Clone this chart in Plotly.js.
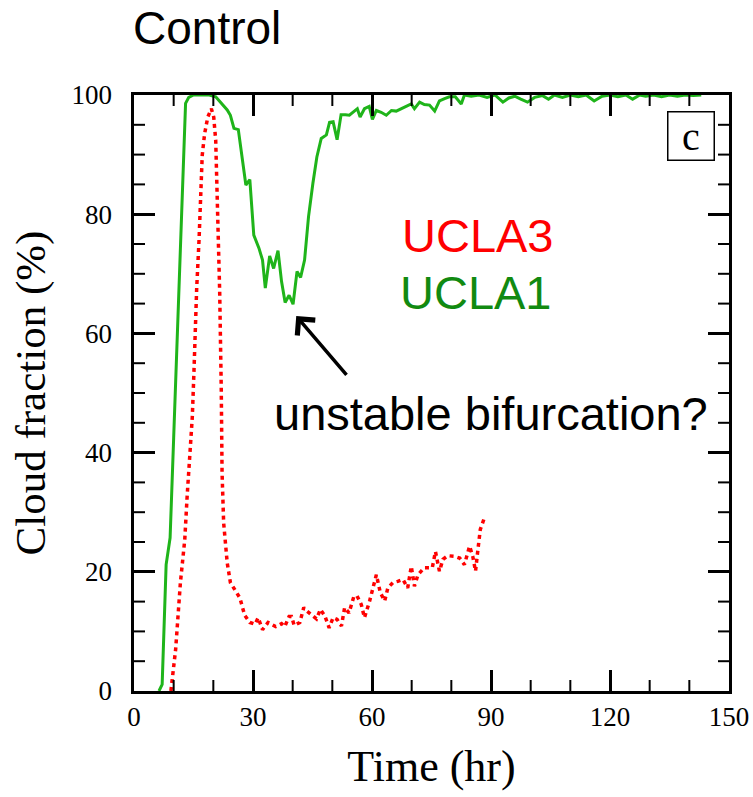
<!DOCTYPE html>
<html>
<head>
<meta charset="utf-8">
<script src="https://cdn.plot.ly/plotly-3.0.1.min.js"></script>
<style>html,body{margin:0;padding:0;background:#fff;}#chart{width:753px;height:797px;}</style>
</head>
<body>
<div id="chart"></div>
<script>
// UCLA1 (green, solid)
const ucla1Time = [6.3, 7.1, 8.1, 9.1, 10, 11, 12, 13, 13.8, 15, 17, 19, 20.6, 21.6, 22.6, 23.5, 24.3, 25.2, 26.3, 27.2, 28.2, 29.2, 30.2, 31.5, 32.4, 33.1, 34.2, 35.2, 36.3, 37.2, 38.1, 39.1, 40.1, 41.1, 42, 43, 44, 45.1, 46.1, 47.2, 48.5, 49.3, 50.2, 51.2, 52.2, 53.3, 54.3, 55.4, 56.3, 57, 58.1, 59.3, 60.1, 61.1, 62.3, 63.6, 64.9, 66.1, 67.4, 68.6, 69.9, 70.7, 72, 73.2, 74.5, 75.8, 77, 78.3, 79.5, 81, 82.5, 83.3, 85, 87, 89, 91, 93, 94.5, 96, 97.5, 99.2, 101, 103, 104.5, 106, 108, 110, 112, 114, 116, 118, 120, 122, 124, 125.7, 127.5, 129, 131, 133, 135, 137, 139, 141, 143];
const ucla1Cloud = [0, 1.1, 21.2, 25.7, 42.5, 61, 80, 98.6, 99.6, 100, 100, 100, 99.7, 99, 98.3, 97.5, 96.6, 94.4, 94.2, 89.5, 84.9, 85.8, 76.5, 74.3, 72.3, 67.6, 73, 70.9, 73.9, 68.7, 65.2, 66.4, 64.9, 70.4, 69.4, 72.3, 79.6, 85.2, 89.6, 92.7, 93.3, 95.4, 95.5, 92.5, 96.7, 96.7, 96.6, 97.2, 97.7, 96.3, 97.7, 98.1, 95.9, 97.4, 97.1, 96.6, 97.4, 97.3, 97.7, 98, 98.5, 97.7, 98.8, 98.4, 98.3, 97.3, 99, 99.4, 99.7, 99.7, 98.5, 100, 99.8, 100, 99.6, 100, 98.8, 99.5, 99.8, 99.3, 98.8, 99.6, 99.9, 99.3, 100, 99.6, 100, 99.7, 100, 99, 99.8, 100, 99.7, 100, 99.3, 100, 99.8, 100, 99.7, 100, 99.8, 100, 99.9, 100];

// UCLA3 (red, dotted)
const ucla3Time = [9.3, 10.5, 11.7, 12.8, 13.4, 14.1, 14.7, 15.1, 15.4, 15.8, 16.4, 16.8, 17.2, 17.8, 18.6, 19.5, 20.1, 20.6, 21, 21.4, 21.6, 22, 22.2, 22.6, 23.5, 24.3, 25.4, 26.7, 27.9, 29.2, 30.5, 31.3, 32.4, 33.8, 35.7, 37.2, 38, 39.1, 39.7, 40.4, 41.8, 42.8, 43.6, 44.7, 46, 47, 48.1, 49.2, 50.2, 51.2, 52.3, 53.1, 54.2, 55.4, 56.2, 57.3, 58.1, 59.4, 60.5, 61.1, 62.1, 63.2, 64, 65.3, 66.5, 67.8, 69, 69.9, 70.7, 71.6, 73.2, 75.2, 76, 77, 77.9, 79.1, 80.8, 82.1, 83.3, 84.6, 85.4, 86.1, 86.7, 87.3, 88.3];
const ucla3Cloud = [0, 7, 18.2, 25.4, 32.7, 39.4, 46, 53.3, 61.7, 67.5, 75.7, 82.9, 89.9, 93.5, 96.3, 97.7, 96.3, 92.4, 84, 75.7, 67, 50.5, 36.6, 28.2, 21.5, 18.2, 17, 15.6, 12.7, 11.5, 11.2, 12.3, 10.3, 11.5, 10.8, 11.3, 10.8, 12.5, 12.5, 11, 11.5, 14, 13.4, 12.8, 12.1, 13.7, 12.6, 10.6, 12.3, 12, 10.9, 14, 13.1, 15.8, 16, 14.5, 12.3, 15.1, 17.9, 19.5, 16.5, 15.1, 17.3, 18.2, 18.4, 18.7, 17.3, 20.9, 17.6, 19.5, 20.7, 20.7, 23.4, 20.1, 22.1, 22.7, 22.6, 22.3, 21.2, 24.3, 22.6, 20.1, 23.7, 27.1, 29];

const xTickVals = [0, 30, 60, 90, 120, 150];
const yTickVals = [0, 20, 40, 60, 80, 100];
const xMinorTicks = [10, 20, 40, 50, 70, 80, 100, 110, 130, 140];
const yMinorTicks = [5, 10, 15, 25, 30, 35, 45, 50, 55, 65, 70, 75, 85, 90, 95];

const serif = "'Liberation Serif', 'Times New Roman', Times, serif";
const sans = "'Liberation Sans', Arial, Helvetica, sans-serif";

const traces = [
  {x: ucla1Time, y: ucla1Cloud, type: 'scatter', mode: 'lines', name: 'UCLA1',
   line: {color: '#1fb41a', width: 3}},
  {x: ucla3Time, y: ucla3Cloud, type: 'scatter', mode: 'lines', name: 'UCLA3',
   line: {color: '#ff0000', width: 3.5, dash: '4px,4px'}}
];

// inward minor tick marks on all four sides, placed on the axis scale
const MAJOR_LEN = 21, MINOR_LEN = 11;
function xTicks(vals, len, w) {
  const out = [];
  vals.forEach(v => {
    out.push({type: 'line', xref: 'x', yref: 'paper', ysizemode: 'pixel', yanchor: 0,
              x0: v, x1: v, y0: 0, y1: len, line: {color: '#000', width: w}});
    out.push({type: 'line', xref: 'x', yref: 'paper', ysizemode: 'pixel', yanchor: 1,
              x0: v, x1: v, y0: 0, y1: -len, line: {color: '#000', width: w}});
  });
  return out;
}
function yTicks(vals, len, w) {
  const out = [];
  vals.forEach(v => {
    out.push({type: 'line', yref: 'y', xref: 'paper', xsizemode: 'pixel', xanchor: 0,
              y0: v, y1: v, x0: 0, x1: len, line: {color: '#000', width: w}});
    out.push({type: 'line', yref: 'y', xref: 'paper', xsizemode: 'pixel', xanchor: 1,
              y0: v, y1: v, x0: 0, x1: -len, line: {color: '#000', width: w}});
  });
  return out;
}
const tickShapes = [].concat(xTicks(xMinorTicks, MINOR_LEN, 2), yTicks(yMinorTicks, MINOR_LEN, 2));

const baseAxis = {
  showline: true, linecolor: '#000', linewidth: 3, mirror: 'ticks',
  ticks: 'inside', tickcolor: '#000', tickwidth: 3, ticklen: MAJOR_LEN,
  showgrid: false, zeroline: false,
  tickfont: {family: serif, size: 27, color: '#000'}
};

const layout = {
  width: 753, height: 797,
  margin: {l: 134, r: 24, t: 95, b: 106},
  paper_bgcolor: '#fff', plot_bgcolor: '#fff',
  showlegend: false,
  title: {text: 'Control', font: {family: sans, size: 46, color: '#000'},
          xref: 'container', yref: 'container', x: 133/753, xanchor: 'left', y: 1 - 28/797, yanchor: 'middle'},
  xaxis: Object.assign({}, baseAxis, {
    range: [0, 150], tickmode: 'array', tickvals: xTickVals, ticktext: xTickVals.map(String),
    title: {text: 'Time (hr)', font: {family: serif, size: 44, color: '#000'}, standoff: 19}
  }),
  yaxis: Object.assign({}, baseAxis, {
    range: [0, 100], tickmode: 'array', tickvals: yTickVals, ticktext: yTickVals.map(v => v + '\u2002'),
    title: {text: 'Cloud fraction (%)', font: {family: serif, size: 43, color: '#000'}, standoff: 13}
  }),
  shapes: tickShapes,
  annotations: [
    {text: 'UCLA3', x: 86.6, y: 76.5, xref: 'x', yref: 'y', showarrow: false,
     font: {family: sans, size: 47, color: '#ff0000'}},
    {text: 'UCLA1', x: 86.1, y: 66.9, xref: 'x', yref: 'y', showarrow: false,
     font: {family: sans, size: 47, color: '#118a11'}},
    {text: 'unstable bifurcation?', x: 90, y: 46.6, xref: 'x', yref: 'y', showarrow: false,
     font: {family: sans, size: 47, color: '#000'}},
    {text: '', x: 40.9, y: 62.9, xref: 'x', yref: 'y', ax: 53.9, ay: 52.8, axref: 'x', ayref: 'y',
     showarrow: true, arrowhead: 4, arrowsize: 1.3, arrowwidth: 3.5, arrowcolor: '#000', standoff: 0},
    {text: 'c', x: 140.4, y: 93.1, xref: 'x', yref: 'y', showarrow: false,
     font: {family: serif, size: 40, color: '#000'}, bgcolor: '#fff',
     bordercolor: '#000', borderwidth: 1.5, borderpad: 0, width: 45, height: 47}
  ]
};

Plotly.newPlot('chart', traces, layout, {displayModeBar: false});
</script>
</body>
</html>
